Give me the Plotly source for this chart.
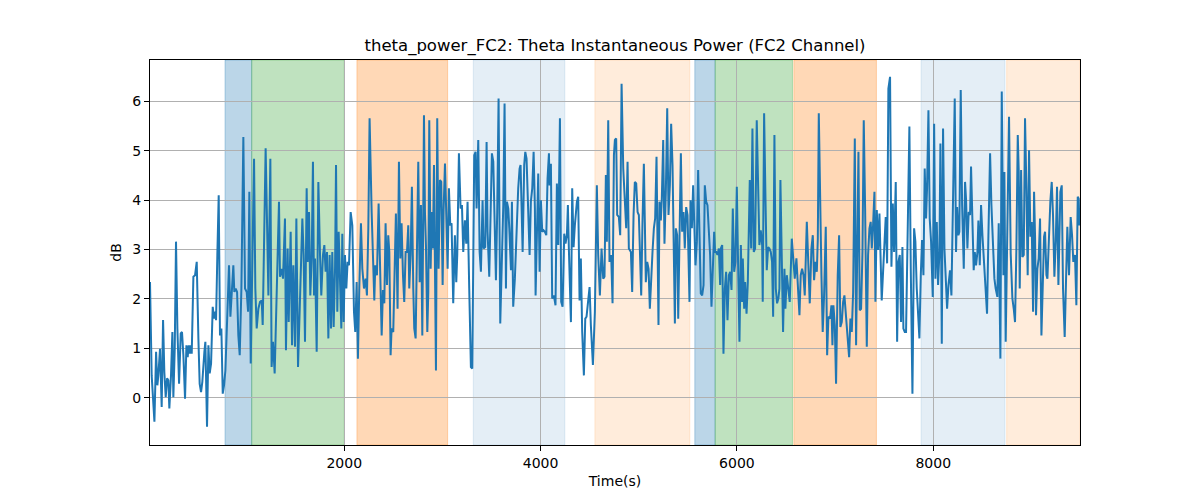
import plotly.graph_objects as go

time_s = [21, 38, 66, 83, 96, 106, 123, 140, 154, 167, 181, 195, 208, 218, 235, 249, 259, 273, 286, 300,
          317, 334, 347, 361, 378, 392, 405, 415, 429, 436, 446, 463, 480, 497, 514, 527, 541, 554, 575, 585,
          602, 616, 629, 643, 660, 673, 687, 694, 707, 721, 734, 748, 762, 775, 789, 809, 826, 840, 853, 870,
          880, 894, 908, 921, 935, 952, 972, 989, 1006, 1020, 1033,
          1047, 1081, 1094, 1108, 1125, 1142, 1159, 1169, 1199, 1227, 1247, 1260, 1274, 1291, 1305, 1318, 1335,
          1345, 1362, 1376, 1396, 1406, 1423, 1434, 1454, 1468, 1481, 1498, 1512, 1529, 1542, 1556, 1573, 1586,
          1600, 1617, 1627, 1641, 1654, 1668, 1681, 1692, 1702, 1719, 1736, 1753, 1766, 1783, 1797, 1810, 1824,
          1838, 1851, 1865, 1878, 1892, 1906, 1916, 1929, 1943, 1956, 1970, 1980, 1994, 2007, 2021, 2034, 2048,
          2065, 2082, 2099, 2112, 2126, 2139, 2153, 2170, 2184, 2201, 2218, 2231, 2245, 2258, 2279, 2296, 2306,
          2316, 2333, 2350, 2364, 2381, 2394, 2408, 2421, 2435, 2448, 2459, 2472, 2482, 2499, 2516, 2526, 2543,
          2557, 2571, 2584, 2598, 2611, 2625, 2639, 2652, 2662, 2676, 2689, 2703, 2713, 2727, 2740, 2754, 2768,
          2781, 2795, 2812, 2822, 2832, 2846, 2856, 2866, 2880, 2890, 2903, 2914, 2927, 2934, 2947, 2961, 2975,
          2988, 3002, 3012, 3026, 3039, 3053, 3066,
          3080, 3093, 3110, 3127, 3141, 3151, 3168, 3185, 3199, 3212, 3229, 3243, 3256, 3273, 3290, 3304, 3314,
          3324, 3338, 3348, 3365, 3379, 3392, 3409, 3419, 3436, 3450, 3460, 3477, 3491, 3504, 3518, 3535, 3545,
          3558, 3572, 3589, 3603, 3620, 3633, 3647, 3657, 3671, 3681, 3698, 3708, 3721, 3738, 3755, 3772, 3786,
          3796, 3806, 3817, 3833, 3844, 3857, 3874, 3888, 3901, 3915, 3929, 3942, 3949, 3966, 3976, 3990, 4003,
          4017, 4030, 4044, 4058, 4071, 4085,
          4091, 4105, 4118, 4135, 4152, 4166, 4180, 4197, 4210, 4224, 4241, 4254, 4268, 4278, 4288, 4309, 4322,
          4336, 4349, 4370, 4383, 4397, 4410, 4424, 4441, 4455, 4468, 4485, 4499, 4512, 4533, 4553, 4573, 4587,
          4604, 4621, 4638, 4651, 4665, 4675, 4689, 4702, 4719, 4733, 4747, 4757, 4770, 4780, 4797, 4811, 4825,
          4842, 4855, 4872, 4886, 4899, 4920, 4933, 4947, 4960, 4974, 4988, 5001, 5015, 5025, 5038, 5052, 5062,
          5072, 5086, 5100,
          5113, 5127, 5140, 5154, 5167, 5181, 5191, 5201, 5211, 5225, 5235, 5249, 5262, 5276, 5290, 5303, 5317,
          5330, 5344, 5357, 5368, 5378, 5391, 5402, 5415, 5429, 5442, 5456, 5469, 5483, 5497, 5507, 5517, 5527,
          5541, 5554, 5565, 5578, 5592, 5605, 5619, 5632, 5646, 5660, 5673, 5687, 5700, 5714, 5727, 5741, 5755,
          5768, 5778, 5789, 5802, 5816, 5829, 5836, 5850, 5863, 5877, 5890, 5904, 5918, 5931, 5945, 5958, 5972,
          5985, 5999, 6013, 6026, 6040, 6053, 6060, 6074, 6084, 6098, 6111,
          6131, 6145, 6158, 6172, 6185, 6202, 6216, 6229, 6243, 6257, 6263, 6277, 6291, 6304, 6318, 6331, 6345,
          6358, 6369, 6382, 6396, 6409, 6423, 6433, 6443, 6457, 6470, 6484, 6494, 6508, 6521, 6538, 6559, 6572,
          6589, 6606, 6623, 6637, 6650, 6664, 6678, 6691, 6712, 6725, 6742, 6759, 6773, 6786, 6800, 6814, 6824,
          6834, 6847, 6861, 6874, 6888, 6905, 6919, 6932, 6949, 6963, 6973, 6983, 6997, 7010, 7027, 7041, 7054,
          7068, 7082, 7095, 7109, 7122, 7136,
          7143, 7156, 7170, 7184, 7201, 7214, 7228, 7238, 7251, 7265, 7279, 7292, 7306, 7323, 7336, 7350, 7363,
          7374, 7387, 7401, 7411, 7425, 7438, 7452, 7462, 7475, 7489, 7503, 7516, 7530, 7543, 7560, 7574, 7588,
          7601, 7618, 7632, 7645, 7659, 7672, 7686, 7696, 7710, 7723, 7740, 7757, 7771, 7788, 7805, 7818, 7832,
          7846, 7859, 7873, 7886, 7900, 7913, 7927, 7937, 7951, 7964, 7978, 7995, 8009, 8022, 8036, 8049, 8063,
          8073, 8087, 8100, 8114, 8127, 8141, 8155,
          8171, 8185, 8199, 8219, 8232, 8243, 8256, 8266, 8280, 8294, 8311, 8324, 8334, 8348, 8361, 8375, 8385,
          8399, 8412, 8423, 8436, 8450, 8460, 8474, 8487, 8501, 8518, 8531, 8548, 8562, 8579, 8592, 8609, 8623,
          8636, 8653, 8667, 8684, 8698, 8715, 8725, 8738, 8755, 8772, 8789, 8806, 8820, 8833, 8847, 8861, 8871,
          8881, 8895, 8908, 8922, 8935, 8949, 8962, 8976, 8990, 9003, 9017, 9027, 9037, 9047, 9061, 9074, 9088,
          9102, 9115, 9129, 9139, 9153, 9163, 9176,
          9193, 9207, 9220, 9234, 9248, 9261, 9275, 9295, 9309, 9322, 9339, 9353, 9366, 9383, 9400, 9414, 9427,
          9444, 9458, 9472, 9482, 9489, 9495]

theta_db = [2.34, 0.45, -0.49, 0.93, 0.25, 0.45, 0.99, -0.19, 1.57, 0.52, 0.01, 0.39, 0.35, -0.22, 0.45, 1.33, 0.01, 0.99, 3.16, 1.40,
            0.28, 1.30, 1.33, 0.86, -0.02, 1.06, 0.82, 1.06, 0.89, 1.06, 0.89, 2.45, 2.48, 2.75, 1.20, 0.28, 0.11, 0.32, 0.93, 1.13,
            -0.59, 1.06, 0.49, 0.69, 1.84, 1.60, 1.74, 1.57, 2.89, 4.10, 1.26, 1.40, 0.08, 0.25, 0.55, 1.53, 2.68, 1.64, 2.21, 2.68,
            2.14, 2.21, 2.14, 1.26, 0.86, 2.21, 5.28, 2.21, 2.14, 1.74, 4.17,
            0.69, 4.84, 2.21, 1.40, 1.80, 1.94, 1.97, 1.47, 5.05, 2.07, 4.84, 0.62, 1.13, 0.49, 1.47, 2.34, 3.97,
            2.45, 2.61, 2.41, 3.63, 0.96, 3.02, 1.53, 3.36, 1.06, 2.68, 1.03, 3.63, 0.62, 1.53, 2.68, 3.63, 2.89,
            1.13, 4.24, 2.75, 3.76, 2.07, 2.82, 4.78, 2.07, 2.82, 0.93, 4.37, 2.89, 2.07, 2.89, 3.09, 2.55, 2.95,
            1.20, 2.89, 1.40, 2.95, 1.43, 2.61, 4.71, 1.74, 3.36, 2.55, 1.40, 3.32, 1.53, 2.89, 2.21, 2.75, 2.68,
            3.76, 3.49, 1.74, 1.33, 2.34, 0.79, 2.21, 3.53, 2.61, 2.21, 2.41, 2.07, 3.43, 5.66, 3.76, 2.61, 1.97,
            2.68, 2.48, 3.93, 2.41, 1.26, 2.18, 1.91, 3.53, 2.28, 3.29, 2.95, 0.86, 1.40, 1.33, 3.02, 3.73, 1.80,
            4.78, 2.82, 3.53, 2.48, 1.94, 2.95, 2.95, 3.49, 2.21, 2.89, 4.27, 2.21, 1.40, 1.20, 3.02, 4.78, 2.34,
            3.90, 1.26, 5.72, 3.76, 3.09, 1.33, 2.14, 5.62, 2.61, 3.76, 3.02, 4.71, 2.68, 0.55, 5.66, 2.61, 4.41,
            4.37, 2.28, 3.80, 4.74, 3.49, 2.61, 4.24,
            3.49, 3.53, 1.91, 3.29, 2.34, 2.89, 4.95, 3.83, 3.90, 2.95, 3.59, 3.12, 3.97, 2.21, 0.62, 0.59, 3.16,
            4.91, 4.98, 3.83, 5.22, 2.95, 2.55, 4.00, 3.02, 3.05, 5.18, 3.36, 2.45, 3.97, 4.95, 4.78, 3.43, 2.38,
            3.76, 6.06, 1.50, 2.41, 3.90, 5.96, 2.21, 3.97, 3.83, 3.43, 2.58, 3.97, 1.84, 2.41, 3.43, 4.24, 4.64,
            4.71, 3.90, 2.95, 4.71, 4.98, 4.84, 3.83, 2.89, 3.97, 4.24, 4.98, 3.83, 2.07, 3.97, 4.54, 2.55, 4.00,
            3.36, 3.39, 3.36, 3.29, 4.44, 4.95,
            4.30, 4.74, 2.01, 2.07, 1.87, 4.34, 3.09, 5.66, 1.94, 1.84, 3.32, 3.12, 3.29, 3.90, 3.02, 1.53, 4.24,
            3.05, 3.49, 3.97, 4.07, 1.97, 2.82, 1.33, 0.45, 1.60, 1.64, 1.94, 2.24, 1.47, 0.66, 1.74, 4.30, 2.89,
            2.07, 3.02, 2.41, 2.45, 4.51, 3.16, 5.62, 2.75, 2.89, 1.91, 4.91, 5.22, 5.25, 3.70, 3.66, 3.29, 6.36,
            4.64, 4.10, 3.43, 4.78, 3.02, 2.95, 2.14, 3.70, 4.37, 4.34, 3.76, 3.70, 2.95, 2.07, 3.56, 4.74, 3.56,
            2.34, 2.75, 2.61,
            1.80, 2.55, 2.95, 3.43, 3.63, 4.88, 3.16, 1.47, 3.97, 3.59, 4.03, 5.22, 3.12, 4.17, 5.86, 3.70, 4.30,
            5.55, 4.71, 3.16, 1.50, 3.43, 3.29, 1.60, 3.56, 4.95, 3.36, 3.76, 3.02, 3.86, 3.70, 2.89, 1.94, 4.00,
            3.43, 4.30, 3.43, 2.68, 3.16, 4.61, 3.29, 2.11, 2.07, 2.28, 4.30, 3.97, 3.90, 3.49, 2.89, 1.84, 2.89,
            3.36, 2.95, 2.95, 2.89, 3.02, 2.28, 3.02, 3.09, 0.89, 2.21, 2.55, 1.57, 2.48, 2.55, 2.18, 3.83, 2.55,
            2.75, 4.27, 2.58, 1.13, 3.09, 1.94, 2.82, 1.80, 2.34, 1.70, 2.34,
            4.41, 3.02, 5.45, 2.95, 3.02, 5.62, 4.03, 3.09, 3.39, 3.09, 1.94, 5.76, 4.03, 2.58, 3.05, 3.02, 2.95,
            2.75, 1.64, 5.32, 2.21, 1.91, 2.01, 2.21, 4.41, 2.75, 1.33, 2.61, 1.80, 2.48, 2.21, 1.94, 3.22, 2.89,
            2.41, 2.82, 2.21, 1.67, 2.48, 2.61, 2.48, 2.07, 3.56, 2.61, 1.91, 3.02, 3.29, 2.38, 2.75, 2.55, 3.22,
            5.76, 3.90, 2.48, 1.33, 2.07, 3.46, 0.86, 1.64, 1.60, 1.87, 1.06, 1.87, 1.47, 0.28, 2.48, 3.29, 1.43,
            1.53, 1.94, 2.07, 1.67, 1.33, 1.06,
            0.82, 1.60, 1.33, 2.14, 5.25, 1.06, 2.92, 4.98, 1.77, 1.80, 2.95, 5.62, 3.83, 1.03, 2.89, 3.43, 3.56,
            3.02, 3.49, 4.17, 1.94, 3.80, 2.99, 3.73, 2.95, 1.97, 2.55, 3.09, 3.66, 2.72, 6.26, 6.50, 2.65, 3.93,
            2.95, 4.37, 1.13, 2.75, 2.89, 1.53, 3.05, 1.40, 1.33, 1.33, 3.46, 5.49, 2.61, 0.08, 3.43, 3.16, 2.21,
            1.60, 1.20, 2.48, 3.19, 2.48, 4.64, 3.63, 4.24, 5.82, 3.63, 3.16, 2.04, 5.55, 2.41, 3.56, 2.28, 2.95,
            5.15, 1.09, 5.45, 3.02, 2.21, 1.80, 2.28,
            2.58, 2.07, 3.70, 6.06, 2.95, 3.86, 3.29, 3.36, 6.23, 3.90, 2.61, 4.37, 4.03, 3.02, 3.76, 3.70, 4.68,
            3.29, 2.58, 2.95, 2.68, 2.95, 3.59, 2.68, 3.90, 3.29, 2.61, 2.14, 1.70, 3.29, 4.95, 3.93, 2.89, 2.41,
            2.21, 2.04, 3.53, 0.79, 6.20, 2.48, 4.57, 1.13, 3.43, 5.69, 2.92, 2.01, 1.80, 1.53, 3.02, 5.32, 4.57,
            2.21, 4.61, 2.85, 2.89, 5.66, 4.24, 2.48, 5.01, 3.26, 3.56, 1.74, 4.17, 3.29, 1.67, 2.61, 2.82, 3.63,
            1.26, 2.55, 3.26, 3.36, 2.48, 2.41, 3.22,
            3.97, 4.37, 3.70, 2.45, 3.16, 4.27, 2.28, 4.17, 4.30, 2.21, 1.23, 2.41, 3.46, 2.48, 3.66, 3.29, 2.75,
            2.89, 1.87, 4.07, 4.03, 3.49, 3.83]

span_start = [785, 1057, 2129, 3314, 4553, 5571, 5778, 6580, 7876, 8748]
span_end = [1057, 2000, 3053, 4247, 5520, 5778, 6566, 7421, 8731, 9495]
span_color = ["rgba(31,119,180,0.3)", "rgba(44,160,44,0.3)", "rgba(255,127,14,0.3)",
              "rgba(31,119,180,0.12)", "rgba(255,127,14,0.15)",
              "rgba(31,119,180,0.3)", "rgba(44,160,44,0.3)", "rgba(255,127,14,0.3)",
              "rgba(31,119,180,0.12)", "rgba(255,127,14,0.15)"]

x_ticks = [2000, 4000, 6000, 8000]
y_ticks = [0, 1, 2, 3, 4, 5, 6]

FONT = "DejaVu Sans"

fig = go.Figure()
fig.add_trace(go.Scatter(x=time_s, y=theta_db, mode="lines",
                         line=dict(color="#1f77b4", width=2), showlegend=False,
                         hoverinfo="skip"))

for s, e, c in zip(span_start, span_end, span_color):
    fig.add_shape(type="rect", xref="x", yref="paper", x0=s, x1=e, y0=0, y1=1,
                  fillcolor=c, line=dict(color=c, width=1), layer="below")

fig.update_layout(
    width=1200, height=500,
    margin=dict(l=150, r=120, t=60, b=55),
    paper_bgcolor="white", plot_bgcolor="white",
    font=dict(family=FONT, size=14, color="black"),
    title=dict(text="theta_power_FC2: Theta Instantaneous Power (FC2 Channel)",
               x=0.5, xref="paper", xanchor="center", y=1, yref="container",
               yanchor="top", pad=dict(t=39),
               font=dict(family=FONT, size=16.5, color="black")),
)
axis_common = dict(showline=True, linecolor="black", linewidth=1, mirror=True,
                   ticks="outside", ticklen=5, tickwidth=1, tickcolor="black",
                   showgrid=True, gridcolor="#b0b0b0", gridwidth=1, zeroline=False,
                   tickfont=dict(family=FONT, size=14, color="black"))
fig.update_xaxes(range=[21, 9495], tickvals=x_ticks, ticktext=[str(v) for v in x_ticks],
                 title=dict(text="Time(s)", font=dict(family=FONT, size=14), standoff=6),
                 **axis_common)
fig.update_yaxes(range=[-0.96, 6.84], tickvals=y_ticks, ticktext=[str(v) for v in y_ticks],
                 title=dict(text="dB", font=dict(family=FONT, size=14), standoff=7),
                 **axis_common)

fig.write_html("out.html")
